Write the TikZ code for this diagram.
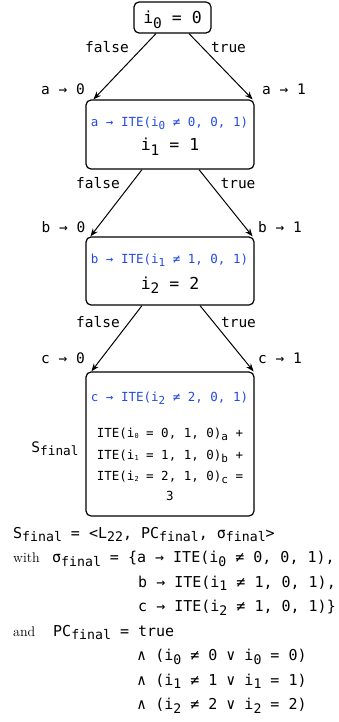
\documentclass[tikz,border=0pt]{standalone}
\usepackage{fontspec}
\setmonofont{DejaVu Sans Mono}
\usetikzlibrary{arrows.meta}
\definecolor{sym_blue}{RGB}{35,75,225}
\newcommand{\lsub}[1]{\raisebox{-0.45ex}{\scalebox{0.88}{#1}}}
\newcommand{\tsub}[1]{\raisebox{-0.15ex}{\scalebox{0.55}{#1}}}
\tikzstyle{st}=[draw=black,rounded corners=5pt,line width=1.2pt,inner sep=0pt]
\tikzstyle{br}=[-{Stealth[length=8pt,width=6pt]},line width=1pt]
\tikzstyle{big}=[inner sep=0pt,anchor=base,font=\ttfamily\fontsize{16.5}{19}\selectfont]
\tikzstyle{tx}=[inner sep=0pt,anchor=base,font=\ttfamily\fontsize{14.5}{17}\selectfont]
\tikzstyle{upd}=[inner sep=0pt,anchor=base,text=sym_blue,font=\ttfamily\fontsize{12.5}{15}\selectfont]
\tikzstyle{sm}=[inner sep=0pt,anchor=base,font=\ttfamily\fontsize{12.5}{15}\selectfont]
\tikzstyle{ln}=[inner sep=0pt,anchor=base west,font=\ttfamily\fontsize{15}{18}\selectfont]
\tikzstyle{rm}=[inner sep=0pt,anchor=base west,font=\rmfamily\fontsize{14}{17}\selectfont]

\begin{document}
\begin{tikzpicture}[x=1pt,y=-1pt]
    \useasboundingbox (0,0) rectangle (338,722);
    % states
    \node [style=st,minimum width=77pt,minimum height=31pt] (s0) at (172.5,17.5) {};
    \node [style=st,minimum width=168pt,minimum height=69pt] (s1) at (170,134.5) {};
    \node [style=st,minimum width=168pt,minimum height=68pt] (s2) at (170,271) {};
    \node [style=st,minimum width=168pt,minimum height=144pt] (s3) at (170,444) {};
    \node [style=big] (c0) at (172.5,24) {i\lsub{0} = 0};
    \node [style=upd] (u1) at (169.5,126.5) {a → ITE(i\lsub{0} ≠ 0, 0, 1)};
    \node [style=big] (c1) at (170,151) {i\lsub{1} = 1};
    \node [style=upd] (u2) at (169.5,263.5) {b → ITE(i\lsub{1} ≠ 1, 0, 1)};
    \node [style=big] (c2) at (170,289) {i\lsub{2} = 2};
    \node [style=upd] (u3) at (169.5,401.5) {c → ITE(i\lsub{2} ≠ 2, 0, 1)};
    \node [style=sm] (e0) at (170,437.5) {ITE(i\tsub{0} = 0, 1, 0)\lsub{a} +};
    \node [style=sm] (e1) at (170,459.5) {ITE(i\tsub{1} = 1, 1, 0)\lsub{b} +};
    \node [style=sm] (e2) at (170,480.5) {ITE(i\tsub{2} = 2, 1, 0)\lsub{c} =};
    \node [style=sm] (e3) at (170,500.5) {3};
    \node [style=tx] (sf) at (55,452) {S\lsub{final}};
    % branches
    \draw [style=br] ([xshift=-16.5pt]s0.south) to ([xshift=8pt]s1.north west);
    \draw [style=br] ([xshift=16.5pt]s0.south) to ([xshift=-2pt]s1.north east);
    \draw [style=br] ([xshift=-28pt]s1.south) to ([xshift=5pt]s2.north west);
    \draw [style=br] ([xshift=29pt]s1.south) to ([xshift=-2pt]s2.north east);
    \draw [style=br] ([xshift=-28pt]s2.south) to ([xshift=6pt]s3.north west);
    \draw [style=br] ([xshift=30pt]s2.south) to ([xshift=-1pt]s3.north east);
    \node [style=tx] (f0) at (107,53) {false};
    \node [style=tx] (t0) at (228.5,53) {true};
    \node [style=tx] (f1) at (98,189) {false};
    \node [style=tx] (t1) at (238,189) {true};
    \node [style=tx] (f2) at (98,327) {false};
    \node [style=tx] (t2) at (238.5,327) {true};
    \node [style=tx] (a0) at (63,95) {a → 0};
    \node [style=tx] (a1) at (284,95) {a → 1};
    \node [style=tx] (b0) at (63.5,232) {b → 0};
    \node [style=tx] (b1) at (280,232) {b → 1};
    \node [style=tx] (d0) at (63,363) {c → 0};
    \node [style=tx] (d1) at (280,363) {c → 1};
    % final state
    \node [style=ln] (r0) at (13,538) {S\lsub{final} = <L\lsub{22}, PC\lsub{final}, σ\lsub{final}>};
    \node [style=rm] (w) at (13,562.5) {with};
    \node [style=ln] (r1) at (52,562.5) {σ\lsub{final} = \{a → ITE(i\lsub{0} ≠ 0, 0, 1),};
    \node [style=ln] (r2) at (138,587) {b → ITE(i\lsub{1} ≠ 1, 0, 1),};
    \node [style=ln] (r3) at (138,611.5) {c → ITE(i\lsub{2} ≠ 1, 0, 1)\}};
    \node [style=rm] (n) at (13,636) {and};
    \node [style=ln] (p0) at (53,636) {PC\lsub{final} = true};
    \node [style=ln] (p1) at (137,660.5) {∧ (i\lsub{0} ≠ 0 ∨ i\lsub{0} = 0)};
    \node [style=ln] (p2) at (137,685) {∧ (i\lsub{1} ≠ 1 ∨ i\lsub{1} = 1)};
    \node [style=ln] (p3) at (137,709.5) {∧ (i\lsub{2} ≠ 2 ∨ i\lsub{2} = 2)};
\end{tikzpicture}
\end{document}
